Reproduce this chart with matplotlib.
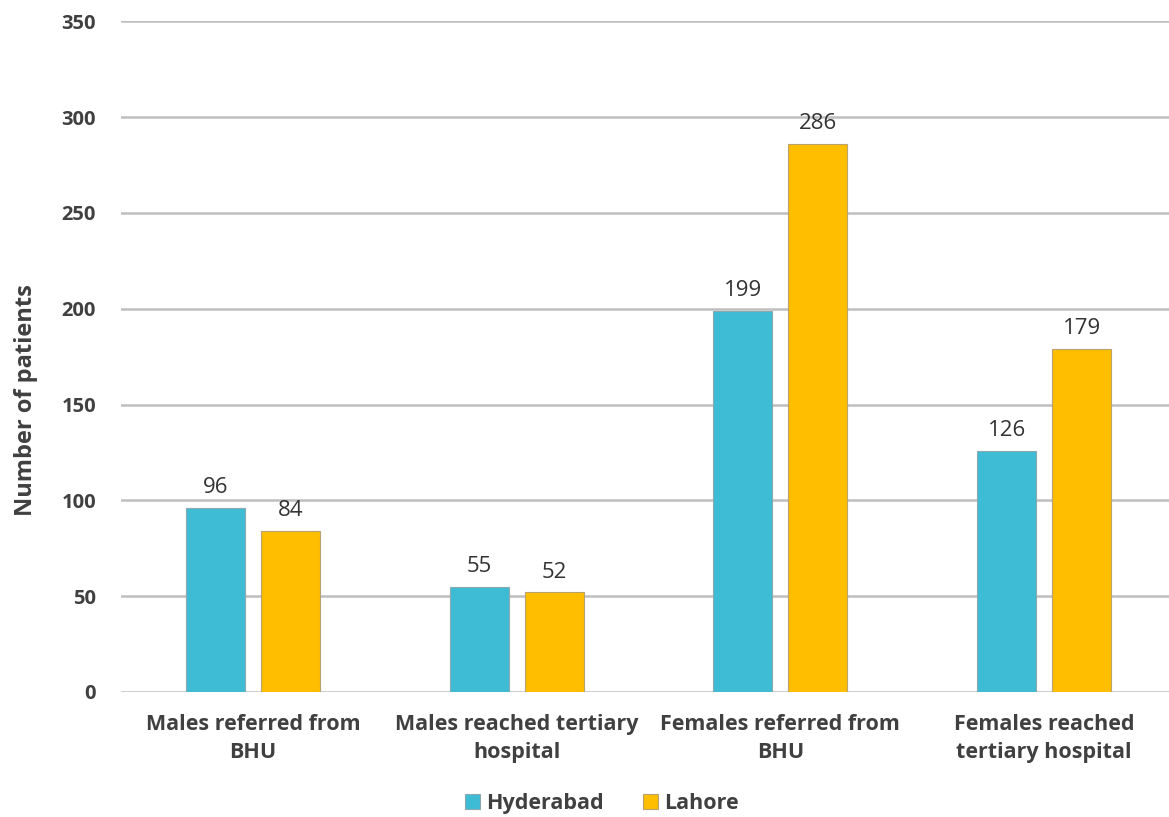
import matplotlib
matplotlib.use("Agg")
import matplotlib.pyplot as plt
import numpy as np

categories = ["Males referred from\nBHU", "Males reached tertiary\nhospital",
              "Females referred from\nBHU", "Females reached\ntertiary hospital"]
hyderabad = [96, 55, 199, 126]
lahore = [84, 52, 286, 179]
series_names = ["Hyderabad", "Lahore"]
yticks = [0, 50, 100, 150, 200, 250, 300, 350]

plt.rcParams['font.family'] = ['Open Sans', 'DejaVu Sans']

fig = plt.figure(figsize=(11.69, 8.17), dpi=100)
ax = fig.add_axes([0.1035, 0.153, 0.9025, 0.821])

x = np.arange(len(categories))
w = 0.224
off = 0.142
c_h = "#3EBCD5"
c_l = "#FFBE00"
b1 = ax.bar(x - off, hyderabad, w, color=c_h, edgecolor="#8aa9b0", linewidth=0.8, label=series_names[0], zorder=3)
b2 = ax.bar(x + off, lahore, w, color=c_l, edgecolor="#b9a270", linewidth=0.8, label=series_names[1], zorder=3)

for bars, vals in ((b1, hyderabad), (b2, lahore)):
    for r, v in zip(bars, vals):
        ax.text(r.get_x() + r.get_width() / 2, v + 5, str(v), ha="center", va="bottom",
                fontsize=16, color="#333333")

ax.set_xlim(-0.5, 3.5)
ax.set_ylim(0, 350)
ax.set_yticks(yticks)
ax.set_yticklabels([str(t) for t in yticks], fontsize=14.5, fontweight="bold", color="#404040")
ax.set_xticks(x)
ax.set_xticklabels(categories, fontsize=15.5, fontweight="bold", color="#404040", linespacing=1.4)
ax.tick_params(axis="both", length=0)
ax.tick_params(axis="y", pad=18)
ax.tick_params(axis="x", pad=16)
ax.grid(axis="y", color="#bfbfbf", linewidth=1.8, zorder=0)
for s in ax.spines.values():
    s.set_visible(False)
ax.set_ylabel("Number of patients", fontsize=17, fontweight="bold", color="#404040")
ax.yaxis.set_label_coords(-0.079, 0.435)

fig.legend(handles=[b1, b2], labels=series_names, loc="center", bbox_to_anchor=(0.515, 0.017),
           ncol=2, frameon=False, prop={"weight": "bold", "size": 15.5},
           handlelength=0.7, handleheight=0.7, handletextpad=0.3, columnspacing=1.8)
for t in fig.legends[0].get_texts():
    t.set_color("#404040")

fig.savefig("out.png", dpi=100)
